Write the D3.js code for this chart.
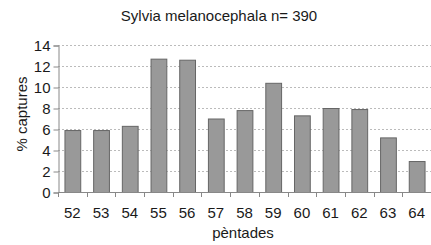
<!DOCTYPE html>
<html><head><meta charset="utf-8">
<script src="https://cdn.jsdelivr.net/npm/d3@7"></script>
<style>body{margin:0;background:#fff}svg{display:block}text{font-family:"Liberation Sans",Arial,sans-serif}</style>
</head><body>
<svg id="c" width="431" height="245"></svg>
<script>
const categories = ["52","53","54","55","56","57","58","59","60","61","62","63","64"];
const values = [5.9,5.9,6.3,12.7,12.6,7.0,7.8,10.4,7.3,8.0,7.9,5.2,2.95];
const yTicks = [0,2,4,6,8,10,12,14];
const title = "Sylvia melanocephala n= 390";
const xTitle = "pèntades";
const yTitle = "% captures";

const svg = d3.select("#c");
const m = {l:58, r:431, t:45, b:192};
const x = d3.scaleBand().domain(categories).range([m.l, m.r]).paddingInner(0.45).paddingOuter(0.225);
const y = d3.scaleLinear().domain([0,14]).range([m.b, m.t]);
const txt = "#1a1a1a";

// gridlines
svg.append("g").selectAll("line").data(yTicks.filter(d=>d>0)).join("line")
  .attr("x1", m.l).attr("x2", m.r).attr("y1", d=>y(d)+0.5).attr("y2", d=>y(d)+0.5)
  .attr("stroke","#bbb").attr("stroke-dasharray","2,2").attr("stroke-width",1);

// bars
svg.append("g").selectAll("rect").data(values).join("rect")
  .attr("x",(d,i)=>x(categories[i])+0.5).attr("y",d=>y(d)+0.5)
  .attr("width",x.bandwidth()).attr("height",d=>y(0)-y(d))
  .attr("fill","#999").attr("stroke","#666").attr("stroke-width",1);

// y axis
const ya = svg.append("g").attr("transform",`translate(${m.l+0.5},0.5)`)
  .call(d3.axisLeft(y).tickValues(yTicks).tickSize(5).tickPadding(3));
ya.select(".domain").attr("stroke","#888");
ya.selectAll(".tick line").attr("stroke","#888");
ya.selectAll("text").attr("font-size",15).attr("fill",txt).attr("font-family","Liberation Sans, Arial, sans-serif");

// x axis: ticks at band boundaries
const xa = svg.append("g").attr("transform",`translate(0,${m.b+0.5})`)
  .call(d3.axisBottom(x).tickSize(0).tickPadding(15));
xa.select(".domain").attr("stroke","#888").attr("d",`M${m.l},0H${m.r}`);
xa.selectAll("text").attr("font-size",15).attr("fill",txt).attr("font-family","Liberation Sans, Arial, sans-serif");
const step = x.step();
const bounds = d3.range(categories.length+1).map(i=>m.l + i*step);
svg.append("g").selectAll("line").data(bounds).join("line")
  .attr("x1",d=>Math.round(d)+0.5).attr("x2",d=>Math.round(d)+0.5)
  .attr("y1",m.b).attr("y2",m.b+5).attr("stroke","#888");

svg.append("text").attr("x",219).attr("y",21).attr("text-anchor","middle")
  .attr("font-size",15).attr("fill",txt).text(title);
svg.append("text").attr("x",243).attr("y",238).attr("text-anchor","middle")
  .attr("font-size",15).attr("fill",txt).text(xTitle);
svg.append("text").attr("transform","translate(27,114) rotate(-90)").attr("text-anchor","middle")
  .attr("font-size",15).attr("fill",txt).text(yTitle);
</script>
</body></html>
